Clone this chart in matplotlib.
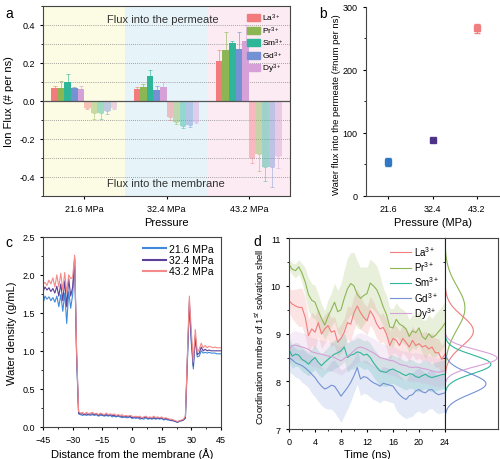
import numpy as np
import matplotlib
matplotlib.use('Agg')
import matplotlib.pyplot as plt
from matplotlib.patches import Patch
from matplotlib.lines import Line2D
from matplotlib.ticker import MultipleLocator

plt.rcParams['font.family'] = ['Liberation Sans', 'DejaVu Sans']
plt.rcParams['mathtext.fontset'] = 'custom'
plt.rcParams['mathtext.rm'] = 'Liberation Sans'
plt.rcParams['mathtext.it'] = 'Liberation Sans:italic'
plt.rcParams['font.size'] = 7
plt.rcParams['axes.linewidth'] = 0.8
plt.rcParams['axes.edgecolor'] = '#444444'
plt.rcParams['xtick.major.size'] = 2.5
plt.rcParams['ytick.major.size'] = 2.5
plt.rcParams['xtick.minor.size'] = 1.5
plt.rcParams['ytick.minor.size'] = 1.5
plt.rcParams['xtick.labelsize'] = 6.5
plt.rcParams['ytick.labelsize'] = 6.5

# ---- data ----
ions = ['La$^{3+}$', 'Pr$^{3+}$', 'Sm$^{3+}$', 'Gd$^{3+}$', 'Dy$^{3+}$']
ion_colors = ['#f27c7c', '#8cb653', '#2fb598', '#7391d3', '#d6a0d8']
pressures = ['21.6 MPa', '32.4 MPa', '43.2 MPa']

# (a) ion flux, rows = pressure, cols = ion
flux_perm = [[0.068, 0.068, 0.100, 0.068, 0.065],
             [0.062, 0.075, 0.130, 0.058, 0.072],
             [0.210, 0.270, 0.307, 0.272, 0.314]]
flux_perm_err = [[0.010, 0.035, 0.040, 0.005, 0.015],
                 [0.010, 0.015, 0.035, 0.020, 0.025],
                 [0.060, 0.090, 0.008, 0.090, 0.085]]
flux_memb = [[-0.040, -0.065, -0.065, -0.055, -0.040],
             [-0.085, -0.110, -0.130, -0.125, -0.110],
             [-0.300, -0.280, -0.350, -0.350, -0.290]]
flux_memb_err = [[0.005, 0.030, 0.030, 0.015, 0.005],
                 [0.015, 0.010, 0.015, 0.010, 0.005],
                 [0.025, 0.090, 0.070, 0.105, 0.065]]

# (b) water flux
pressure_mpa = [21.6, 32.4, 43.2]
water_flux = [53.5, 89.0, 266.0]
water_flux_err = [6.0, 2.0, 7.0]
b_colors = ['#2b74c4', '#4b2f86', '#f07b7b']

# (c) water density profiles
distance = np.arange(-45, 46)
dens_216 = [1.62, 1.72, 1.68, 1.71, 1.66, 1.70, 1.64, 1.72, 1.58, 1.74, 1.52, 1.76, 1.36, 1.78, 1.56, 1.74,
            2.20, 0.90,
            0.17, 0.16, 0.15, 0.16, 0.15, 0.16, 0.15, 0.16, 0.15, 0.16, 0.14, 0.15, 0.15, 0.14, 0.15, 0.14,
            0.15, 0.13, 0.14, 0.13, 0.14, 0.13, 0.12, 0.13, 0.12, 0.12, 0.13, 0.11, 0.12, 0.11, 0.12, 0.10,
            0.11, 0.10, 0.12, 0.10, 0.11, 0.10, 0.11, 0.10, 0.11, 0.10, 0.11, 0.09, 0.10, 0.09, 0.09, 0.08,
            0.08, 0.07, 0.06, 0.07, 0.08, 0.09,
            0.11, 0.85, 1.60, 1.10, 0.76, 1.15, 0.92, 0.93, 1.00, 0.97, 0.98, 0.97, 0.98, 0.97, 0.97, 0.97,
            0.96, 0.96, 0.96]
dens_324 = [1.78, 1.84, 1.80, 1.83, 1.78, 1.82, 1.76, 1.85, 1.72, 1.88, 1.66, 1.92, 1.58, 1.95, 1.72, 1.84,
            2.22, 0.95,
            0.18, 0.17, 0.17, 0.16, 0.17, 0.16, 0.17, 0.17, 0.16, 0.17, 0.15, 0.17, 0.16, 0.15, 0.16, 0.15,
            0.16, 0.15, 0.15, 0.14, 0.15, 0.14, 0.14, 0.13, 0.14, 0.13, 0.14, 0.12, 0.12, 0.13, 0.12, 0.12,
            0.11, 0.12, 0.13, 0.11, 0.12, 0.11, 0.12, 0.11, 0.12, 0.11, 0.12, 0.10, 0.11, 0.10, 0.09, 0.09,
            0.08, 0.07, 0.06, 0.08, 0.08, 0.09,
            0.12, 0.90, 1.65, 1.15, 0.80, 1.20, 0.95, 0.97, 1.05, 1.00, 1.02, 1.00, 1.01, 1.00, 1.00, 1.00,
            1.00, 1.00, 1.00]
dens_432 = [1.88, 1.90, 1.86, 1.93, 1.88, 1.96, 1.84, 2.00, 1.84, 2.02, 1.80, 2.03, 1.76, 2.00, 1.95, 1.97,
            2.26, 1.00,
            0.20, 0.18, 0.19, 0.17, 0.19, 0.17, 0.18, 0.19, 0.17, 0.18, 0.16, 0.18, 0.17, 0.16, 0.18, 0.16,
            0.17, 0.16, 0.17, 0.15, 0.16, 0.15, 0.16, 0.14, 0.15, 0.14, 0.15, 0.14, 0.13, 0.14, 0.13, 0.14,
            0.12, 0.13, 0.14, 0.12, 0.13, 0.12, 0.14, 0.12, 0.13, 0.12, 0.13, 0.11, 0.12, 0.11, 0.10, 0.10,
            0.09, 0.08, 0.07, 0.08, 0.09, 0.10,
            0.14, 0.95, 1.72, 1.25, 0.85, 1.28, 0.98, 1.02, 1.10, 1.04, 1.07, 1.04, 1.06, 1.05, 1.04, 1.05,
            1.04, 1.04, 1.04]
c_colors = ['#3f8ad8', '#5b3f98', '#f48a8a']

# (d) coordination number vs time (every 0.5 ns)
time_ns = np.arange(0, 24.5, 0.5)
cn_la = [9.69, 9.62, 9.58, 9.55, 9.55, 9.34, 8.96, 9.10, 9.03, 9.23,
         8.99, 9.10, 9.17, 9.03, 9.06, 8.82, 8.90, 9.03, 9.23, 9.20,
         9.44, 9.58, 9.44, 9.34, 9.27, 9.48, 9.37, 9.20, 9.10, 9.13,
         8.99, 8.75, 8.90, 8.86, 8.75, 8.90, 8.82, 8.72, 8.86, 8.75,
         8.79, 8.72, 8.75, 8.68, 8.72, 8.60, 8.60, 8.46, 8.57]
cn_pr = [10.45, 10.35, 10.32, 10.40, 10.27, 10.08, 9.82, 9.70, 9.66, 9.48,
         9.32, 9.18, 9.36, 9.50, 9.66, 9.46, 9.50, 9.74, 9.94, 10.05,
         10.00, 9.82, 9.74, 9.80, 9.84, 10.06, 10.00, 9.92, 9.76, 9.56,
         9.40, 9.14, 9.12, 9.30, 9.20, 9.16, 9.10, 8.94, 9.06, 9.02,
         9.12, 8.94, 8.88, 9.00, 8.92, 8.96, 9.04, 9.12, 9.22]
cn_sm = [8.67, 8.53, 8.57, 8.55, 8.46, 8.42, 8.36, 8.44, 8.50, 8.40,
         8.33, 8.40, 8.46, 8.52, 8.57, 8.60, 8.64, 8.72, 8.50, 8.55,
         8.57, 8.62, 8.60, 8.55, 8.57, 8.50, 8.39, 8.30, 8.22, 8.20,
         8.19, 8.24, 8.26, 8.22, 8.19, 8.15, 8.12, 8.16, 8.15, 8.10,
         8.08, 8.12, 8.15, 8.10, 8.08, 8.10, 8.12, 8.14, 8.15]
cn_gd = [8.50, 8.45, 8.39, 8.36, 8.33, 8.28, 8.22, 8.15, 8.08, 7.98,
         7.90, 7.84, 7.87, 7.92, 7.90, 7.80, 7.69, 7.78, 7.87, 7.98,
         8.12, 8.29, 8.05, 8.10, 8.08, 8.02, 7.97, 7.94, 7.90, 7.96,
         7.94, 7.92, 7.90, 7.80, 7.72, 7.66, 7.62, 7.70, 7.72, 7.80,
         7.83, 7.78, 7.76, 7.82, 7.83, 7.76, 7.72, 7.74, 7.76]
cn_dy = [8.67, 8.75, 8.76, 8.74, 8.72, 8.70, 8.67, 8.62, 8.60, 8.58,
         8.57, 8.55, 8.53, 8.52, 8.50, 8.46, 8.43, 8.48, 8.53, 8.58,
         8.64, 8.70, 8.72, 8.70, 8.67, 8.63, 8.60, 8.55, 8.50, 8.48,
         8.46, 8.44, 8.43, 8.40, 8.36, 8.34, 8.33, 8.30, 8.29, 8.30,
         8.29, 8.27, 8.26, 8.24, 8.22, 8.20, 8.19, 8.21, 8.22]
# half width of shaded band
sd_la = [0.25, 0.30, 0.35, 0.40, 0.40, 0.40, 0.35, 0.35, 0.35, 0.30,
         0.30, 0.30, 0.30, 0.30, 0.30, 0.30, 0.30, 0.30, 0.35, 0.35,
         0.35, 0.35, 0.35, 0.30, 0.30, 0.30, 0.30, 0.30, 0.30, 0.30,
         0.30, 0.30, 0.30, 0.30, 0.30, 0.30, 0.30, 0.30, 0.30, 0.30,
         0.30, 0.30, 0.30, 0.30, 0.30, 0.30, 0.30, 0.30, 0.30]
sd_pr = [0.10, 0.12, 0.15, 0.15, 0.20, 0.30, 0.35, 0.35, 0.35, 0.35,
         0.30, 0.30, 0.35, 0.35, 0.40, 0.45, 0.55, 0.60, 0.65, 0.65,
         0.70, 0.70, 0.65, 0.60, 0.55, 0.50, 0.50, 0.50, 0.45, 0.40,
         0.40, 0.40, 0.40, 0.35, 0.35, 0.35, 0.35, 0.35, 0.35, 0.35,
         0.35, 0.35, 0.40, 0.40, 0.40, 0.45, 0.45, 0.45, 0.45]
sd_sm = [0.25, 0.25, 0.25, 0.25, 0.25, 0.25, 0.25, 0.25, 0.25, 0.25,
         0.25, 0.25, 0.25, 0.30, 0.30, 0.30, 0.30, 0.30, 0.30, 0.30,
         0.30, 0.30, 0.30, 0.30, 0.30, 0.30, 0.30, 0.30, 0.30, 0.30,
         0.30, 0.30, 0.30, 0.30, 0.30, 0.30, 0.30, 0.30, 0.30, 0.30,
         0.30, 0.30, 0.30, 0.30, 0.30, 0.30, 0.30, 0.30, 0.30]
sd_gd = [0.30, 0.30, 0.30, 0.30, 0.35, 0.35, 0.35, 0.40, 0.40, 0.40,
         0.40, 0.40, 0.45, 0.50, 0.55, 0.55, 0.55, 0.50, 0.45, 0.40,
         0.35, 0.35, 0.35, 0.35, 0.35, 0.35, 0.35, 0.35, 0.35, 0.35,
         0.35, 0.35, 0.35, 0.40, 0.40, 0.40, 0.40, 0.45, 0.45, 0.45,
         0.45, 0.45, 0.40, 0.40, 0.40, 0.40, 0.40, 0.40, 0.40]
sd_dy = [0.30] * 49

fig = plt.figure(figsize=(5, 4.6), dpi=100)

# ================= panel a =================
ax = fig.add_axes([0.086, 0.572, 0.494, 0.413])
ax.axvspan(0.5, 1.5, color='#fcfbe4', lw=0)
ax.axvspan(1.5, 2.5, color='#e6f4fa', lw=0)
ax.axvspan(2.5, 3.5, color='#fcebf3', lw=0)
for v in [-0.4, -0.3, -0.2, -0.1, 0.1, 0.2, 0.3, 0.4]:
    ax.axhline(v, color='#888888', ls=(0, (1, 1.5)), lw=0.6, zorder=1)
ax.axhline(0, color='#555555', lw=0.9, zorder=3)

w = 0.08
for g in range(3):
    for j in range(5):
        xp = g + 1 - 0.4 + w * (j + 0.5)
        xn = g + 1 + w * (j + 0.5)
        ax.bar(xp, flux_perm[g][j], width=w, color=ion_colors[j], zorder=2)
        ax.errorbar(xp, flux_perm[g][j], yerr=[[0], [flux_perm_err[g][j]]], color=ion_colors[j],
                    elinewidth=0.6, capsize=1.5, capthick=0.6, alpha=0.7, zorder=2)
        ax.bar(xn, flux_memb[g][j], width=w, color=ion_colors[j], alpha=0.45, lw=0, zorder=2)
        ax.errorbar(xn, flux_memb[g][j], yerr=[[flux_memb_err[g][j]], [0]], color=ion_colors[j],
                    elinewidth=0.6, capsize=1.5, capthick=0.6, alpha=0.5, zorder=2)

ax.text(1.95, 0.43, 'Flux into the permeate', ha='center', va='center', fontsize=8, color='#333333')
ax.text(1.99, -0.43, 'Flux into the membrane', ha='center', va='center', fontsize=8, color='#333333')
ax.set_xlim(0.5, 3.5)
ax.set_ylim(-0.5, 0.5)
ax.set_xticks([1, 2, 3])
ax.set_xticklabels(pressures)
ax.set_yticks([-0.4, -0.2, 0.0, 0.2, 0.4])
ax.set_yticklabels(['-0.4', '-0.2', '0.0', '0.2', '0.4'])
ax.yaxis.set_minor_locator(MultipleLocator(0.1))
ax.set_xlabel('Pressure', fontsize=8, labelpad=3)
ax.set_ylabel('Ion Flux (# per ns)', fontsize=8, labelpad=4)
handles = [Patch(color=c, label=l) for c, l in zip(ion_colors, ions)]
ax.legend(handles=handles, loc='upper right', fontsize=6, frameon=False, handlelength=1.5,
          handleheight=0.9, labelspacing=0.15, handletextpad=0.3, borderaxespad=0.3)
fig.text(0.01, 0.985, 'a', fontsize=10, va='top')

# ================= panel b =================
ax = fig.add_axes([0.732, 0.572, 0.266, 0.411])
for p, v, e, c in zip(pressure_mpa, water_flux, water_flux_err, b_colors):
    ax.errorbar(p, v, yerr=e, fmt='s', color=c, ms=5, elinewidth=0.8, capsize=2, ecolor=c, alpha=0.95)
ax.set_xlim(16.2, 48.6)
ax.set_ylim(0, 300)
ax.set_xticks(pressure_mpa)
ax.set_xticklabels(['21.6', '32.4', '43.2'])
ax.set_yticks([0, 100, 200, 300])
ax.yaxis.set_minor_locator(MultipleLocator(50))
ax.spines['top'].set_visible(False)
ax.spines['right'].set_visible(False)
ax.set_xlabel('Pressure (MPa)', fontsize=8, labelpad=3)
ax.set_ylabel('Water flux into the permeate (#num per ns)', fontsize=6.8, labelpad=3)
ax.yaxis.set_label_coords(-0.19, 0.49)
fig.text(0.638, 0.985, 'b', fontsize=10, va='top')

# ================= panel c =================
ax = fig.add_axes([0.086, 0.070, 0.356, 0.413])
ax.plot(distance, dens_216, color=c_colors[0], lw=0.8, label='21.6 MPa')
ax.plot(distance, dens_324, color=c_colors[1], lw=0.8, label='32.4 MPa')
ax.plot(distance, dens_432, color=c_colors[2], lw=0.8, label='43.2 MPa')
ax.set_xlim(-45, 45)
ax.set_ylim(0, 2.5)
ax.set_xticks(np.arange(-45, 46, 15))
ax.xaxis.set_minor_locator(MultipleLocator(7.5))
ax.set_yticks([0, 0.5, 1.0, 1.5, 2.0, 2.5])
ax.set_yticklabels(['0.0', '0.5', '1.0', '1.5', '2.0', '2.5'])
ax.yaxis.set_minor_locator(MultipleLocator(0.25))
ax.set_xlabel('Distance from the membrane (Å)', fontsize=8, labelpad=2)
ax.set_ylabel('Water density (g/mL)', fontsize=8, labelpad=4)
leg_lines = [Line2D([0], [0], color=c, lw=1.5) for c in c_colors]
ax.legend(leg_lines, ['21.6 MPa', '32.4 MPa', '43.2 MPa'], loc='upper right', fontsize=7.5,
          frameon=False, handlelength=2.2, labelspacing=0.1, handletextpad=0.3, borderaxespad=0.3)
fig.text(0.01, 0.487, 'c', fontsize=10, va='top')

# ================= panel d =================
ax = fig.add_axes([0.578, 0.065, 0.312, 0.415])
series = [cn_la, cn_pr, cn_sm, cn_gd, cn_dy]
bands = [sd_la, sd_pr, sd_sm, sd_gd, sd_dy]
for s, b, c, l in zip(series, bands, ion_colors, ions):
    s = np.array(s)
    b = np.array(b)
    ax.fill_between(time_ns, s - b, s + b, color=c, alpha=0.2, lw=0)
    ax.plot(time_ns, s, color=c, lw=0.8, label=l)
ax.set_xlim(0, 24)
ax.set_ylim(7, 11)
ax.set_xticks(np.arange(0, 25, 4))
ax.xaxis.set_minor_locator(MultipleLocator(2))
ax.set_yticks([7, 8, 9, 10, 11])
ax.yaxis.set_minor_locator(MultipleLocator(0.5))
ax.set_xlabel('Time (ns)', fontsize=8, labelpad=2)
ax.set_ylabel('Coordination number of 1$^{st}$ solvation shell', fontsize=6.8, labelpad=4)
ax.yaxis.set_label_coords(-0.145, 0.49)
ax.legend(loc='upper right', fontsize=7, frameon=False, handlelength=2.2,
          labelspacing=0.15, handletextpad=0.3, borderaxespad=0.2)
fig.text(0.506, 0.49, 'd', fontsize=10, va='top')

# marginal normal curves from each series' mean and std
axm = fig.add_axes([0.89, 0.065, 0.106, 0.415], sharey=ax)
yy = np.linspace(7, 11, 400)
peak = 0
for s, c in zip(series, ion_colors):
    m, sd = np.mean(s), np.std(s)
    pdf = np.exp(-(yy - m) ** 2 / (2 * sd ** 2)) / (sd * np.sqrt(2 * np.pi))
    peak = max(peak, pdf.max())
    axm.plot(pdf, yy, color=c, lw=0.8)
axm.set_xlim(0, peak * 1.02)
axm.spines['left'].set_color('#222222')
axm.tick_params(left=False, labelleft=False, bottom=False, labelbottom=False)

fig.savefig('out.png', dpi=100)
